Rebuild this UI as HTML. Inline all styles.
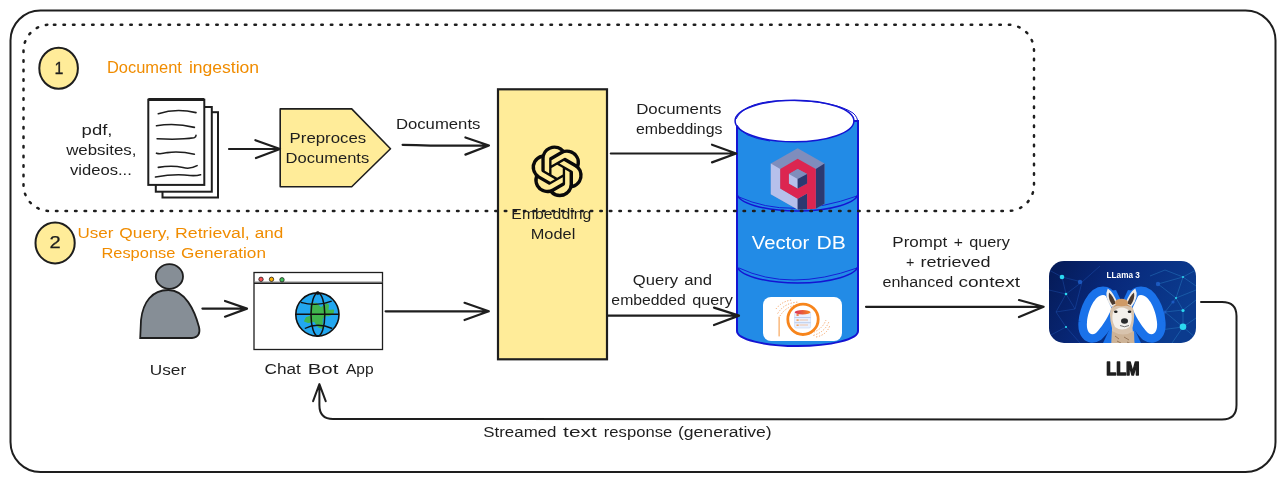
<!DOCTYPE html>
<html><head><meta charset="utf-8">
<style>
html,body{margin:0;padding:0;background:#fff;width:1285px;height:482px;overflow:hidden}
svg{display:block;will-change:transform}
text{font-family:"Liberation Sans",sans-serif}
</style></head>
<body>
<svg width="1285" height="482" viewBox="0 0 1285 482">
<!-- outer frame -->
<rect x="10.5" y="10.5" width="1265" height="461.5" rx="30" ry="30" fill="none" stroke="#1e1e1e" stroke-width="2"/>

<!-- circle 1 -->
<ellipse cx="58.6" cy="68.3" rx="19.3" ry="20.5" fill="#ffec99" stroke="#1e1e1e" stroke-width="2"/>
<text x="58.9" y="73.8" font-size="16" text-anchor="middle" fill="#1e1e1e" stroke="#1e1e1e" stroke-width="0.3">1</text>

<!-- docs stack -->
<g fill="#fff" stroke="#1e1e1e" stroke-width="2">
<rect x="162.5" y="112.2" width="55.5" height="85.3"/>
<rect x="155.8" y="107" width="56" height="84.7"/>
<rect x="148.3" y="99.7" width="56" height="85.2"/>
</g>
<line x1="148.3" y1="99.5" x2="204.3" y2="99.5" stroke="#1e1e1e" stroke-width="3"/>
<g fill="none" stroke="#1e1e1e" stroke-width="1.6" stroke-linecap="round">
<path d="M158.3 113.7 Q176 108 196 112.6"/>
<path d="M156.5 125.8 Q175 122.5 194.4 127.4"/>
<path d="M157.1 138.8 Q180 140 194 137.8 Q196 137 196 135.4"/>
<path d="M156.5 153.2 Q160 154.5 167.4 152.6 Q180 151 194.4 154.2"/>
<path d="M158.3 167.4 Q172 165 183 167.5 Q190 169.5 197.1 165.6"/>
<path d="M155.5 177 Q175 173.5 190 175.5 Q196 176 200.6 174.7"/>
</g>

<!-- pentagon -->
<path d="M280.2 108.9 L351.7 108.9 L390.5 148.8 L351.7 186.7 L280.2 186.7 Z" fill="#ffec99" stroke="#1e1e1e" stroke-width="1.6" stroke-linejoin="round"/>

<!-- embedding box -->
<rect x="498" y="89.3" width="109" height="270" fill="#ffec99" stroke="#1e1e1e" stroke-width="2.2"/>
<g transform="translate(531.2,145.4) scale(2.16)"><path fill="#0a0a0a" d="M22.2819 9.8211a5.9847 5.9847 0 0 0-.5157-4.9108 6.0462 6.0462 0 0 0-6.5098-2.9A6.0651 6.0651 0 0 0 4.9807 4.1818a5.9847 5.9847 0 0 0-3.9977 2.9 6.0462 6.0462 0 0 0 .7427 7.0966 5.98 5.98 0 0 0 .511 4.9107 6.051 6.051 0 0 0 6.5146 2.9001A5.9847 5.9847 0 0 0 13.2599 24a6.0557 6.0557 0 0 0 5.7718-4.2058 5.9894 5.9894 0 0 0 3.9977-2.9001 6.0557 6.0557 0 0 0-.7475-7.0729zm-9.022 12.6081a4.4755 4.4755 0 0 1-2.8764-1.0408l.1419-.0804 4.7783-2.7582a.7948.7948 0 0 0 .3927-.6813v-6.7369l2.02 1.1686a.071.071 0 0 1 .038.052v5.5826a4.504 4.504 0 0 1-4.4945 4.4944zm-9.6607-4.1254a4.4708 4.4708 0 0 1-.5346-3.0137l.142.0852 4.783 2.7582a.7712.7712 0 0 0 .7806 0l5.8428-3.3685v2.3324a.0804.0804 0 0 1-.0332.0615L9.74 19.9502a4.4992 4.4992 0 0 1-6.1408-1.6464zM2.3408 7.8956a4.485 4.485 0 0 1 2.3655-1.9728V11.6a.7664.7664 0 0 0 .3879.6765l5.8144 3.3543-2.0201 1.1685a.0757.0757 0 0 1-.071 0l-4.8303-2.7865A4.504 4.504 0 0 1 2.3408 7.872zm16.5963 3.8558L13.1038 8.364 15.1192 7.2a.0757.0757 0 0 1 .071 0l4.8303 2.7913a4.4944 4.4944 0 0 1-.6765 8.1042v-5.6772a.79.79 0 0 0-.407-.667zm2.0107-3.0231l-.142-.0852-4.7735-2.7818a.7759.7759 0 0 0-.7854 0L9.409 9.2297V6.8974a.0662.0662 0 0 1 .0284-.0615l4.8303-2.7866a4.4992 4.4992 0 0 1 6.6802 4.66zM8.3065 12.863l-2.02-1.1638a.0804.0804 0 0 1-.038-.0567V6.0742a4.4992 4.4992 0 0 1 7.3757-3.4537l-.142.0805L8.704 5.459a.7948.7948 0 0 0-.3927.6813zm1.0976-2.3654l2.602-1.4998 2.6069 1.4998v2.9994l-2.5974 1.4997-2.6067-1.4997Z"/></g>


<!-- cylinder -->
<path d="M737 121 L737 331 A60.5 15 0 0 0 858 331 L858 121 Z" fill="#228be6" stroke="#1414d2" stroke-width="2"/>
<path d="M737 193 A60.5 18 0 0 0 858 193" fill="none" stroke="#1414d2" stroke-width="1.5"/>
<path d="M739 197 Q790 220 857 196" fill="none" stroke="#1414d2" stroke-width="0.9"/>
<path d="M737 265 A60.5 18 0 0 0 858 265" fill="none" stroke="#1414d2" stroke-width="1.5"/>
<path d="M739 268 Q790 292 857 268" fill="none" stroke="#1414d2" stroke-width="0.9"/>
<ellipse cx="794.5" cy="121" rx="59.4" ry="20.8" fill="#fff" stroke="#1414d2" stroke-width="1.5"/>
<path d="M736 119 Q745 100 790 100.5 Q835 101 853 113 Q858 117 858 124" fill="none" stroke="#1414d2" stroke-width="1"/>
<path d="M737 125 Q742 137 770 141" fill="none" stroke="#1414d2" stroke-width="0.9"/>
<g transform="translate(765,145) scale(0.14514)">
<polygon points="225,22 410,128 410,405 350,440 225,445 40,340 40,128" fill="#7f8dbc"/>
<polygon points="40,128 105,165 105,300 225,370 225,445 40,340" fill="#b6c0eb"/>
<polygon points="350,165 410,128 410,405 350,440" fill="#2c3970"/>
<polygon points="225,370 290,335 290,442 225,445" fill="#2c3970"/>
<path d="M105,165 L225,95 L350,165 L350,440 L290,442 L290,335 L225,370 L105,300 Z M165,200 L165,265 L225,300 L290,265 L290,200 L225,165 Z" fill="#dc2550" fill-rule="evenodd"/>
<polygon points="165,200 225,165 290,200 225,235" fill="#7f8dbc"/>
<polygon points="165,200 225,235 225,300 165,265" fill="#b6c0eb"/>
<polygon points="225,235 290,200 290,265 225,300" fill="#2c3970"/>
</g>
<rect x="763" y="297" width="79" height="44" rx="8" fill="#fff"/>
<g>
<defs><linearGradient id="dbtop" x1="0" x2="1"><stop offset="0" stop-color="#d9335a"/><stop offset="1" stop-color="#f7851c"/></linearGradient></defs>
<g fill="none" stroke="#f6a060" stroke-width="1" stroke-dasharray="1.2 1.6">
<path d="M777.7 313.5 Q784 303 797.8 302.1"/>
<path d="M780 316 Q786 306 799 304.5"/>
<path d="M776 309 Q782 301 792 300"/>
<path d="M813.4 335.4 Q825 332 828.9 321.7"/>
<path d="M811 333 Q822 330 826 320"/>
<path d="M816 337 Q827 335 830 325"/>
</g>
<line x1="779.1" y1="316.7" x2="779.1" y2="336.4" stroke="#f7953c" stroke-width="1"/>
<circle cx="803" cy="319.3" r="15.2" fill="#fff" stroke="#f7851c" stroke-width="2.8"/>
<rect x="794.6" y="312.3" width="16" height="15.7" rx="1.5" fill="#e9f1ff" stroke="#c3d4f2" stroke-width="0.6"/>
<ellipse cx="802.6" cy="312.3" rx="8" ry="2.2" fill="url(#dbtop)"/>
<line x1="794.6" y1="317.5" x2="810.6" y2="317.5" stroke="#a9bde3" stroke-width="0.7"/>
<line x1="794.6" y1="322.7" x2="810.6" y2="322.7" stroke="#a9bde3" stroke-width="0.7"/>
<rect x="796.5" y="314.2" width="2.2" height="1.6" fill="#f06a2a"/>
<rect x="796.5" y="319.4" width="2.2" height="1.4" fill="#f59a4a"/>
<rect x="796.5" y="324.5" width="2.2" height="1.4" fill="#f59a4a"/>
<line x1="799.5" y1="320" x2="808" y2="320" stroke="#f7a56a" stroke-width="0.6"/>
<line x1="799.5" y1="325" x2="808" y2="325" stroke="#f7a56a" stroke-width="0.6"/>
</g>



<!-- LLM -->
<defs>
<linearGradient id="llmbg" x1="0" y1="0" x2="1" y2="0.3">
<stop offset="0" stop-color="#051a55"/>
<stop offset="0.45" stop-color="#08287a"/>
<stop offset="1" stop-color="#0b3b8e"/>
</linearGradient>
<radialGradient id="glow" cx="0.5" cy="0.5" r="0.5">
<stop offset="0" stop-color="#3ff0ff"/>
<stop offset="1" stop-color="#3ff0ff" stop-opacity="0"/>
</radialGradient>
<clipPath id="llmclip"><rect x="1049" y="261" width="147" height="82" rx="15"/></clipPath>
</defs>
<g clip-path="url(#llmclip)">
<rect x="1049" y="261" width="147" height="82" fill="url(#llmbg)"/>
<g stroke="#2a66d0" stroke-width="0.7" opacity="0.45" fill="none">
<path d="M1049 270 L1062 277 L1082 282 L1100 266 M1062 277 L1066 294 L1056 312 L1066 327 L1080 343 M1066 294 L1082 282 M1066 294 L1075 309 L1056 312 M1082 282 L1075 309 M1049 290 L1066 294 M1066 327 L1049 336"/>
</g>
<g stroke="#3a9ee0" stroke-width="0.7" opacity="0.45" fill="none">
<path d="M1150 276 L1165 270 L1183 277 L1196 270 M1158 284 L1183 277 L1176 298 L1183 310 L1183 327 L1196 318 M1158 284 L1176 298 L1196 290 M1176 298 L1165 312 L1183 327 L1172 343 M1165 312 L1183 310 L1196 300 M1183 327 L1196 338 M1165 312 L1160 330 L1183 327 M1183 277 L1196 286"/>
</g>
<g fill="#2bd8f0">
<circle cx="1062" cy="277" r="2.3"/><circle cx="1066" cy="294" r="1.3"/><circle cx="1066" cy="327" r="1.1"/>
<circle cx="1183" cy="326.7" r="3.3"/><circle cx="1183" cy="310.5" r="1.6"/><circle cx="1183" cy="277" r="1"/><circle cx="1176" cy="298" r="1"/>
</g>
<g fill="#1f5fc8" opacity="0.85">
<circle cx="1080" cy="282" r="2.2"/><circle cx="1158" cy="284" r="2.2"/><circle cx="1173" cy="302" r="1.6"/><circle cx="1165" cy="312" r="1.6"/><circle cx="1156" cy="336" r="2"/>
</g>
<g fill="#fff" stroke="#1a72ea" stroke-width="17" stroke-linejoin="round">
<path id="mhole" d="M1103 295 C1108 295 1112 302 1111 310 C1107 319 1101 328 1096 333 C1090 337 1086 331 1087 322 C1088 310 1095 295 1103 295 Z"/>
<path d="M1103 295 C1108 295 1112 302 1111 310 C1107 319 1101 328 1096 333 C1090 337 1086 331 1087 322 C1088 310 1095 295 1103 295 Z" transform="matrix(-1 0 0 1 2244 0)"/>
</g>
<path d="M1103 295 C1108 295 1112 302 1111 310 C1107 319 1101 328 1096 333 C1090 337 1086 331 1087 322 C1088 310 1095 295 1103 295 Z" fill="#fff"/>
<path d="M1103 295 C1108 295 1112 302 1111 310 C1107 319 1101 328 1096 333 C1090 337 1086 331 1087 322 C1088 310 1095 295 1103 295 Z" transform="matrix(-1 0 0 1 2244 0)" fill="#fff"/>
<g fill="#1a72ea"><polygon points="1104,292 1116,290 1141,343 1128,343"/><polygon points="1140,292 1128,290 1103,343 1116,343"/></g>
<!-- llama -->
<path d="M1107.8 288.5 Q1103.5 297 1111.5 307 L1118 304.5 Q1113.5 292 1107.8 288.5 Z" fill="#f2eee9"/>
<path d="M1109 292.5 Q1107.8 299 1112.3 305 L1115.8 303.5 Q1112.5 295 1109 292.5 Z" fill="#4a3a30"/>
<path d="M1135.3 288.5 Q1139.5 297 1131.5 307 L1125 304.5 Q1129.5 292 1135.3 288.5 Z" fill="#f2eee9"/>
<path d="M1134 292.5 Q1135.2 299 1130.7 305 L1127.2 303.5 Q1130.5 295 1134 292.5 Z" fill="#4a3a30"/>
<path d="M1111.5 345 L1112 328 Q1108.5 316 1111 308 Q1121 296 1133 308 Q1135.5 316 1132.5 328 L1134.5 345 Z" fill="#d8c3ad"/>
<path d="M1113 312 Q1121.5 303 1131 312 Q1133 320 1129.5 327 Q1122 332 1115 327 Q1111 320 1113 312 Z" fill="#f4f0eb"/>
<path d="M1111.5 309 Q1121 297 1133 309 Q1128 304 1122 306 Q1116 304 1111.5 309 Z" fill="#c48c58"/>
<ellipse cx="1121.5" cy="302.5" rx="6.5" ry="3.8" fill="#cf9a66"/>
<ellipse cx="1115.8" cy="311.8" rx="1.8" ry="1.3" fill="#1d1d1d"/><ellipse cx="1129.5" cy="311.8" rx="1.8" ry="1.3" fill="#1d1d1d"/>
<ellipse cx="1124.5" cy="321" rx="3.5" ry="2.8" fill="#2a2a2a"/>
<path d="M1120 325.5 Q1124.5 328 1129 325.5" stroke="#555" stroke-width="0.8" fill="none"/>
<path d="M1112 331 Q1123 338 1134 331 L1134.5 345 L1111.5 345 Z" fill="#cdb397"/>
<path d="M1115 336 L1119 339 M1124 337 L1129 340 M1117 341 L1121 343 M1127 342 L1131 344" stroke="#8b6a4d" stroke-width="0.8"/>
</g>
<text x="1106.6" y="278.1" font-size="8.6" font-weight="bold" fill="#fff" textLength="33.2" lengthAdjust="spacingAndGlyphs">LLama 3</text>

<text x="1106.3" y="374.8" font-size="18.8" font-weight="bold" fill="#1e1e1e" stroke="#1e1e1e" stroke-width="1.5" stroke-linejoin="round" textLength="33.2" lengthAdjust="spacingAndGlyphs">LLM</text>

<!-- section 2 -->
<ellipse cx="55.1" cy="242.9" rx="19.6" ry="20.5" fill="#ffec99" stroke="#1e1e1e" stroke-width="2"/>
<text x="49.6" y="248.3" font-size="16" fill="#1e1e1e" stroke="#1e1e1e" stroke-width="0.25" textLength="11.2" lengthAdjust="spacingAndGlyphs">2</text>

<!-- user -->
<ellipse cx="169.4" cy="276.5" rx="13.6" ry="12.3" fill="#868e96" stroke="#1e1e1e" stroke-width="1.8"/>
<path d="M168.3 290 C152 290 143 302 141 320 L140.2 338 L192 338 C198.5 337.5 200.5 333 199 327 C194.5 310 185 290 168.3 290 Z" fill="#868e96" stroke="#1e1e1e" stroke-width="1.8"/>

<!-- browser -->
<rect x="254" y="272.5" width="128.5" height="77" fill="#fff" stroke="#1e1e1e" stroke-width="1.3"/>
<line x1="254" y1="282" x2="382.5" y2="282" stroke="#888" stroke-width="1"/>
<line x1="254" y1="283.2" x2="382.5" y2="283.2" stroke="#1e1e1e" stroke-width="1.4"/>
<circle cx="261" cy="279.3" r="2.2" fill="#fa5252" stroke="#1e1e1e" stroke-width="0.8"/>
<circle cx="271.5" cy="279.3" r="2.2" fill="#fab005" stroke="#1e1e1e" stroke-width="0.8"/>
<circle cx="282" cy="279.8" r="2.2" fill="#40c057" stroke="#1e1e1e" stroke-width="0.8"/>
<g>
<circle cx="317.4" cy="314.5" r="21.6" fill="#22a7f0"/>
<path d="M311.1 304 L316.3 303.4 L320.8 308 L326.5 304 L328.2 305.1 L327.7 310.8 L333.4 310.3 L332.8 313.7 L328.8 315.4 L324.2 315.4 L322 318.8 L322 328 L318.5 326.8 L314.5 321.1 L308.3 322.2 L304.8 321.1 L306.5 317.7 L310.5 316.5 L311.1 310.8 Z" fill="#40b54d" stroke="#40b54d" stroke-width="1.5" stroke-linejoin="round"/>
<circle cx="317.4" cy="314.5" r="21.6" fill="none" stroke="#111" stroke-width="1.6"/>
<ellipse cx="317.9" cy="314.5" rx="6.9" ry="21.6" fill="none" stroke="#111" stroke-width="1.5"/>
<line x1="296" y1="314.3" x2="339" y2="314.3" stroke="#111" stroke-width="1.6"/>
<path d="M300.8 302.3 Q317 307 331.7 301.1" fill="none" stroke="#111" stroke-width="1.4"/>
<path d="M304.8 328.5 Q317.4 322 332.2 328.5" fill="none" stroke="#111" stroke-width="1.4"/>
<circle cx="317.7" cy="293" r="1.5" fill="none" stroke="#111" stroke-width="1"/>
</g>



<!-- arrows -->
<g fill="none" stroke="#1e1e1e" stroke-width="2.2" stroke-linecap="round" stroke-linejoin="round">
<path d="M229 149 L280 149 M255.4 140.2 L280 149 L256 158"/>
<path d="M402.6 144.8 Q440 146 489 145.5 M465.4 137.5 L489 145.5 L465.4 154.6"/>
<path d="M610.8 153.5 L736.2 153.5 M712 144.7 L736.2 153.5 L712 162.4"/>
<path d="M202.4 308.6 L247 308.6 M225 301 L247 308.6 L225 316.7"/>
<path d="M385.6 311.3 L488.8 311.3 M464.5 302.8 L488.8 311.3 L464.5 320"/>
<path d="M607 315.6 L739 315.6 M714 307.6 L739 315.6 L714 325"/>
<path d="M866 306.8 L1043.6 306.8 M1019 300 L1043.6 306.8 L1019 317"/>
</g>
<path d="M1201 302 L1222 302 Q1236.5 302 1236.5 316 L1236.5 405 Q1236.5 419.5 1222 419.5 L333 419 Q319.4 419 319.4 405 L319.4 384.5 M313.1 401.2 L319.4 384.1 L325.7 401.2" fill="none" stroke="#1e1e1e" stroke-width="2" stroke-linecap="round" stroke-linejoin="round"/>

<!-- WORDS -->
<g stroke-width="0">
<text x="106.97" y="72.9" font-size="16" fill="#f08c00" textLength="74.95" lengthAdjust="spacingAndGlyphs" stroke="#f08c00">Document</text>
<text x="188.90" y="72.9" font-size="16" fill="#f08c00" textLength="70.24" lengthAdjust="spacingAndGlyphs" stroke="#f08c00">ingestion</text>
<text x="81.61" y="134.6" font-size="15.5" fill="#1e1e1e" textLength="30.82" lengthAdjust="spacingAndGlyphs" stroke="#1e1e1e">pdf,</text>
<text x="66.20" y="155" font-size="15.5" fill="#1e1e1e" textLength="70.27" lengthAdjust="spacingAndGlyphs" stroke="#1e1e1e">websites,</text>
<text x="70.00" y="174.5" font-size="15.5" fill="#1e1e1e" textLength="61.79" lengthAdjust="spacingAndGlyphs" stroke="#1e1e1e">videos...</text>
<text x="289.62" y="143.3" font-size="15.5" fill="#1e1e1e" textLength="76.60" lengthAdjust="spacingAndGlyphs" stroke="#1e1e1e">Preproces</text>
<text x="285.63" y="162.6" font-size="15.5" fill="#1e1e1e" textLength="83.60" lengthAdjust="spacingAndGlyphs" stroke="#1e1e1e">Documents</text>
<text x="395.92" y="129" font-size="15.5" fill="#1e1e1e" textLength="84.52" lengthAdjust="spacingAndGlyphs" stroke="#1e1e1e">Documents</text>
<text x="636.21" y="114.3" font-size="15.5" fill="#1e1e1e" textLength="85.23" lengthAdjust="spacingAndGlyphs" stroke="#1e1e1e">Documents</text>
<text x="635.98" y="133.8" font-size="15.5" fill="#1e1e1e" textLength="86.49" lengthAdjust="spacingAndGlyphs" stroke="#1e1e1e">embeddings</text>
<text x="511.38" y="218.5" font-size="15.5" fill="#1e1e1e" textLength="79.85" lengthAdjust="spacingAndGlyphs" stroke="#1e1e1e">Embedding</text>
<text x="530.75" y="238.6" font-size="15.5" fill="#1e1e1e" textLength="44.54" lengthAdjust="spacingAndGlyphs" stroke="#1e1e1e">Model</text>
<text x="751.80" y="249.3" font-size="18" fill="#ffffff" textLength="57.44" lengthAdjust="spacingAndGlyphs" stroke="#ffffff">Vector</text>
<text x="816.63" y="249.3" font-size="18" fill="#ffffff" textLength="29.26" lengthAdjust="spacingAndGlyphs" stroke="#ffffff">DB</text>
<text x="892.30" y="246.8" font-size="15.5" fill="#1e1e1e" textLength="54.86" lengthAdjust="spacingAndGlyphs" stroke="#1e1e1e">Prompt</text>
<text x="953.69" y="246.8" font-size="15.5" fill="#1e1e1e" textLength="9.18" lengthAdjust="spacingAndGlyphs" stroke="#1e1e1e">+</text>
<text x="969.25" y="246.8" font-size="15.5" fill="#1e1e1e" textLength="40.62" lengthAdjust="spacingAndGlyphs" stroke="#1e1e1e">query</text>
<text x="905.88" y="266.7" font-size="15.5" fill="#1e1e1e" textLength="8.38" lengthAdjust="spacingAndGlyphs" stroke="#1e1e1e">+</text>
<text x="920.54" y="266.7" font-size="15.5" fill="#1e1e1e" textLength="70.02" lengthAdjust="spacingAndGlyphs" stroke="#1e1e1e">retrieved</text>
<text x="882.46" y="286.7" font-size="15.5" fill="#1e1e1e" textLength="70.67" lengthAdjust="spacingAndGlyphs" stroke="#1e1e1e">enhanced</text>
<text x="958.47" y="286.7" font-size="15.5" fill="#1e1e1e" textLength="61.51" lengthAdjust="spacingAndGlyphs" stroke="#1e1e1e">context</text>
<text x="632.83" y="285.2" font-size="15.5" fill="#1e1e1e" textLength="45.20" lengthAdjust="spacingAndGlyphs" stroke="#1e1e1e">Query</text>
<text x="684.32" y="285.2" font-size="15.5" fill="#1e1e1e" textLength="27.82" lengthAdjust="spacingAndGlyphs" stroke="#1e1e1e">and</text>
<text x="611.38" y="304.8" font-size="15.5" fill="#1e1e1e" textLength="74.49" lengthAdjust="spacingAndGlyphs" stroke="#1e1e1e">embedded</text>
<text x="692.15" y="304.8" font-size="15.5" fill="#1e1e1e" textLength="40.62" lengthAdjust="spacingAndGlyphs" stroke="#1e1e1e">query</text>
<text x="77.50" y="238" font-size="15.5" fill="#f08c00" textLength="35.91" lengthAdjust="spacingAndGlyphs" stroke="#f08c00">User</text>
<text x="119.38" y="238" font-size="15.5" fill="#f08c00" textLength="50.65" lengthAdjust="spacingAndGlyphs" stroke="#f08c00">Query,</text>
<text x="175.06" y="238" font-size="15.5" fill="#f08c00" textLength="74.72" lengthAdjust="spacingAndGlyphs" stroke="#f08c00">Retrieval,</text>
<text x="254.70" y="238" font-size="15.5" fill="#f08c00" textLength="28.57" lengthAdjust="spacingAndGlyphs" stroke="#f08c00">and</text>
<text x="101.44" y="257.7" font-size="15.5" fill="#f08c00" textLength="73.90" lengthAdjust="spacingAndGlyphs" stroke="#f08c00">Response</text>
<text x="181.09" y="257.7" font-size="15.5" fill="#f08c00" textLength="84.88" lengthAdjust="spacingAndGlyphs" stroke="#f08c00">Generation</text>
<text x="149.79" y="374.5" font-size="15.5" fill="#1e1e1e" textLength="36.42" lengthAdjust="spacingAndGlyphs" stroke="#1e1e1e">User</text>
<text x="264.49" y="374.1" font-size="15.5" fill="#1e1e1e" textLength="36.33" lengthAdjust="spacingAndGlyphs" stroke="#1e1e1e">Chat</text>
<text x="307.68" y="374.1" font-size="15.5" fill="#1e1e1e" textLength="30.67" lengthAdjust="spacingAndGlyphs" stroke="#1e1e1e">Bot</text>
<text x="345.90" y="374.1" font-size="15.5" fill="#1e1e1e" textLength="27.70" lengthAdjust="spacingAndGlyphs" stroke="#1e1e1e">App</text>
<text x="483.31" y="437.1" font-size="15.5" fill="#1e1e1e" textLength="73.20" lengthAdjust="spacingAndGlyphs" stroke="#1e1e1e">Streamed</text>
<text x="563.10" y="437.1" font-size="15.5" fill="#1e1e1e" textLength="33.68" lengthAdjust="spacingAndGlyphs" stroke="#1e1e1e">text</text>
<text x="603.83" y="437.1" font-size="15.5" fill="#1e1e1e" textLength="68.39" lengthAdjust="spacingAndGlyphs" stroke="#1e1e1e">response</text>
<text x="677.97" y="437.1" font-size="15.5" fill="#1e1e1e" textLength="93.75" lengthAdjust="spacingAndGlyphs" stroke="#1e1e1e">(generative)</text>
</g>
<!-- /WORDS -->
<!-- dotted region -->
<rect x="23.5" y="24.7" width="1010.5" height="186.3" rx="26" ry="26" fill="none" stroke="#1e1e1e" stroke-width="2.5" stroke-dasharray="1.5 8.05" stroke-dashoffset="-4.4" stroke-linecap="round"/>
</svg>
</body></html>
